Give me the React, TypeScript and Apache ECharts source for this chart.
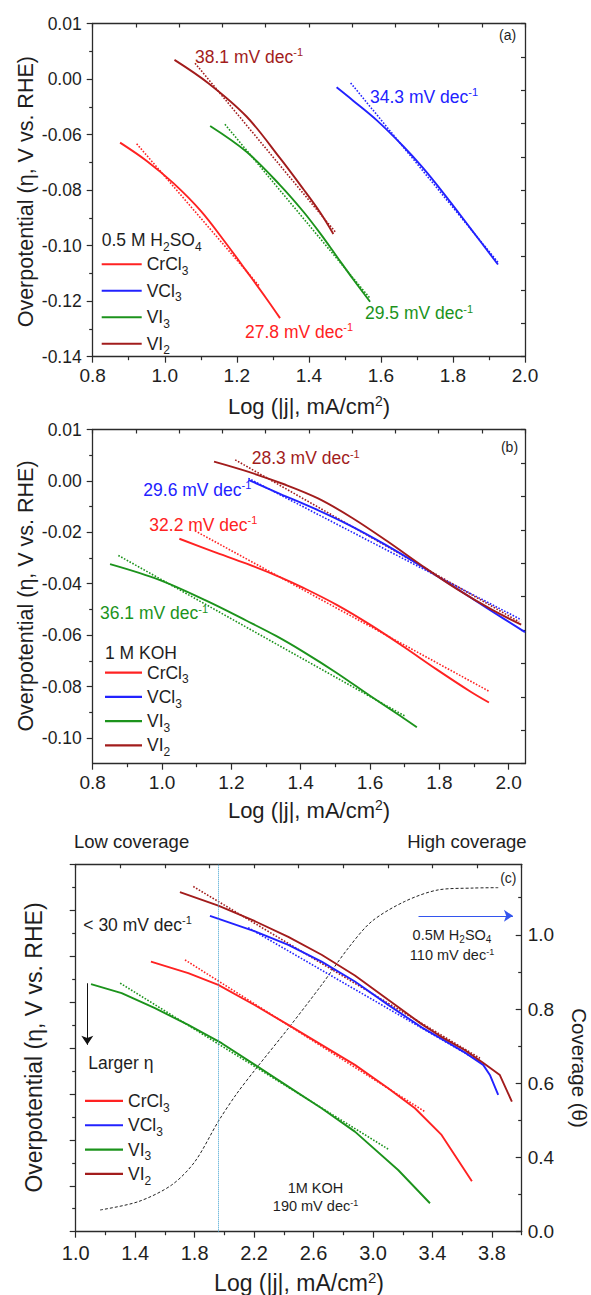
import React, { useEffect, useRef } from "react";
import * as echarts from "echarts";

const FONT = "'Liberation Sans', Arial, Helvetica, sans-serif";
const INK = "#1e1e1e";
const RED = "#ff2222";
const BLUE = "#2222ff";
const GREEN = "#1c931c";
const DARK = "#a21c1c";

const NAMES = ["CrCl3", "VCl3", "VI3", "VI2"];
const FRAME_TICKS = [0, 1, 2, 3, 4, 5, 6, 7, 8, 9, 10];

// ---------- Panel (a): 0.5 M H2SO4 ----------
const A_X_TICKS = [0.8, 1.0, 1.2, 1.4, 1.6, 1.8, 2.0];
const A_X_MINOR = [0.9, 1.1, 1.3, 1.5, 1.7, 1.9];
const A_Y_TICKS = [-0.14, -0.12, -0.1, -0.08, -0.06, -0.04, -0.02];
const A_Y_LABELS = ["-0.14", "-0.12", "-0.10", "-0.08", "-0.06", "0.00", "0.01"];
const A_Y_MINOR = [-0.13, -0.11, -0.09, -0.07, -0.05, -0.03];

const A_CRCL3 = [[0.876, -0.0629], [0.95, -0.0695], [1.024, -0.0775], [1.1, -0.0875], [1.172, -0.0995], [1.227, -0.1092], [1.283, -0.1192], [1.32, -0.1261]];
const A_CRCL3_FIT = [[0.922, -0.0633], [1.264, -0.1148]];
const A_VCL3 = [[1.477, -0.043], [1.523, -0.0478], [1.588, -0.0548], [1.662, -0.0642], [1.718, -0.0722], [1.773, -0.081], [1.847, -0.0935], [1.925, -0.1068]];
const A_VCL3_FIT = [[1.516, -0.0414], [1.925, -0.106]];
const A_VI3 = [[1.126, -0.0569], [1.227, -0.0662], [1.32, -0.0782], [1.385, -0.0878], [1.431, -0.0955], [1.477, -0.1038], [1.523, -0.1121], [1.57, -0.1202]];
const A_VI3_FIT = [[1.167, -0.0563], [1.57, -0.119]];
const A_VI2 = [[1.027, -0.0331], [1.121, -0.0415], [1.227, -0.0535], [1.32, -0.0685], [1.385, -0.0797], [1.431, -0.088], [1.468, -0.0958]];
const A_VI2_FIT = [[1.084, -0.0343], [1.473, -0.095]];
const A_SLOPES = ["27.8", "34.3", "29.5", "38.1"];

// ---------- Panel (b): 1 M KOH ----------
const B_X_TICKS = [0.8, 1.0, 1.2, 1.4, 1.6, 1.8, 2.0];
const B_X_MINOR = [0.9, 1.1, 1.3, 1.5, 1.7, 1.9];
const B_Y_TICKS = [-0.1, -0.08, -0.06, -0.04, -0.02, 0.0, 0.02];
const B_Y_LABELS = ["-0.10", "-0.08", "-0.06", "-0.04", "-0.02", "0.00", "0.01"];
const B_Y_MINOR = [-0.09, -0.07, -0.05, -0.03, -0.01, 0.01];

const B_CRCL3 = [[1.05, -0.0225], [1.148, -0.0275], [1.244, -0.0322], [1.34, -0.0374], [1.408, -0.0416], [1.504, -0.0482], [1.6, -0.0559], [1.696, -0.0644], [1.792, -0.0733], [1.888, -0.0818], [1.943, -0.0862]];
const B_CRCL3_FIT = [[1.095, -0.0194], [1.943, -0.0818]];
const B_VCL3 = [[1.249, 0.0004], [1.34, -0.005], [1.44, -0.0108], [1.54, -0.0172], [1.64, -0.0245], [1.74, -0.0325], [1.84, -0.041], [1.94, -0.0497], [2.047, -0.0588]];
const B_VCL3_FIT = [[1.249, 0.001], [2.036, -0.054]];
const B_VI3 = [[0.85, -0.0324], [0.994, -0.0386], [1.129, -0.0467], [1.244, -0.0544], [1.329, -0.0603], [1.408, -0.0665], [1.504, -0.0747], [1.6, -0.0836], [1.696, -0.0922], [1.735, -0.0958]];
const B_VI3_FIT = [[0.874, -0.029], [1.701, -0.0915]];
const B_VI2 = [[1.15, 0.0075], [1.25, 0.0035], [1.35, -0.0012], [1.45, -0.0068], [1.55, -0.0145], [1.65, -0.0235], [1.75, -0.033], [1.85, -0.042], [1.95, -0.05], [2.036, -0.0559]];
const B_VI2_FIT = [[1.211, 0.0082], [2.03, -0.0548]];
const B_SLOPES = ["32.2", "29.6", "36.1", "28.3"];

// ---------- Panel (c): both electrolytes + coverage ----------
const C_X_TICKS = [1.0, 1.4, 1.8, 2.2, 2.6, 3.0, 3.4, 3.8];
const C_X_MINOR = [1.2, 1.6, 2.0, 2.4, 2.8, 3.2, 3.6, 4.0];
const C_Y_TICKS = [0, 1, 2, 3, 4, 5, 6, 7, 8];
const C_Y_MINOR = [0.5, 1.5, 2.5, 3.5, 4.5, 5.5, 6.5, 7.5];
const C_COV_TICKS = [0.2, 0.4, 0.6, 0.8, 1.0];
const C_COV_LABELS = ["0.0", "0.4", "0.6", "0.8", "1.0"];
const C_COV_MINOR = [0.3, 0.5, 0.7, 0.9, 1.1];

const C_CRCL3 = [[1.506, 5.882], [1.757, 5.63], [1.959, 5.375], [2.206, 4.93], [2.43, 4.503], [2.654, 4.068], [2.878, 3.632], [3.102, 3.124], [3.282, 2.688], [3.461, 2.107], [3.665, 1.1]];
const C_CRCL3_FIT = [[1.735, 5.919], [3.349, 2.614]];
const C_VCL3 = [[1.903, 6.878], [2.206, 6.54], [2.43, 6.246], [2.654, 5.882], [2.878, 5.447], [3.102, 4.939], [3.327, 4.45], [3.45, 4.22], [3.619, 3.9], [3.741, 3.632], [3.786, 3.414], [3.842, 2.978]];
const C_VCL3_FIT = [[2.16, 6.62], [3.72, 3.7]];
const C_VI3 = [[1.103, 5.39], [1.309, 5.194], [1.533, 4.867], [1.757, 4.503], [1.982, 4.105], [2.206, 3.632], [2.43, 3.159], [2.654, 2.688], [2.878, 2.179], [3.169, 1.344], [3.383, 0.619]];
const C_VI3_FIT = [[1.299, 5.412], [3.102, 1.797]];
const C_VI2 = [[1.701, 7.394], [1.959, 7.1], [2.206, 6.76], [2.43, 6.42], [2.654, 6.03], [2.878, 5.58], [3.102, 5.05], [3.327, 4.52], [3.451, 4.26], [3.619, 3.95], [3.74, 3.68], [3.853, 3.41], [3.934, 2.83]];
const C_VI2_FIT = [[1.791, 7.516], [3.719, 3.778]];
const C_COVERAGE = [[1.164, 0.2585], [1.421, 0.281], [1.646, 0.326], [1.802, 0.389], [1.959, 0.497], [2.078, 0.569], [2.206, 0.636], [2.43, 0.748], [2.654, 0.865], [2.833, 0.964], [2.991, 1.036], [3.214, 1.09], [3.438, 1.121], [3.674, 1.126], [3.842, 1.127]];
const C_BOUNDARY_X = 1.963;
const C_ETA_ARROW = [[1.078, 5.41], [1.078, 4.07]];
const C_ACID_ARROW = [[3.306, 6.878], [3.941, 6.878]];

// ---------- helpers ----------
function rich(size: number, color: string, lh = size + 3, padRatio = 0.6) {
  const sub = Math.round(size * 0.7);
  const sup = Math.round(size * 0.65);
  const base = { fontFamily: FONT, color, fill: color };
  return {
    n: { ...base, fontSize: size, lineHeight: lh },
    m: { ...base, fontSize: size, lineHeight: lh + 6 },
    b: { ...base, fontSize: sub, lineHeight: sub, padding: [Math.round(size * padRatio), 0, 0, 0], verticalAlign: "top" },
    p: { ...base, fontSize: sup, lineHeight: sup, verticalAlign: "top" },
  };
}

const slopeText = (v: string) => `{n|${v} mV dec}{p|-1}`;

function txt(s: string, x: number, y: number, size: number, color: string, align = "left", rotation = 0, lh?: number, padRatio?: number) {
  return {
    type: "text",
    x,
    y,
    rotation,
    silent: true,
    style: {
      text: s,
      rich: rich(size, color, lh ?? size + 3, padRatio ?? 0.6),
      fill: color,
      fontSize: size,
      fontFamily: FONT,
      align,
      verticalAlign: "middle",
    },
  };
}

type AxOpt = {
  grid: number;
  pos: string;
  min: number;
  max: number;
  ticks: number[];
  len: number;
  inside?: boolean;
  line?: boolean;
  labels?: number[];
  texts?: string[];
  size?: number;
  margin?: number;
};

function axis(o: AxOpt) {
  const lab = o.labels;
  return {
    type: "value",
    gridIndex: o.grid,
    position: o.pos,
    min: o.min,
    max: o.max,
    axisLine: { show: !!o.line, onZero: false, lineStyle: { color: "#2b2b2b", width: 1.3 } },
    axisTick: { show: true, inside: !!o.inside, length: o.len, customValues: o.ticks, lineStyle: { color: "#2b2b2b", width: 1.2 } },
    axisLabel: lab
      ? {
          show: true,
          customValues: lab,
          margin: o.margin ?? 9,
          fontSize: o.size ?? 18,
          fontFamily: FONT,
          color: INK,
          formatter: (v: number) => {
            const i = lab.findIndex((l) => Math.abs(l - v) < 1e-7);
            if (o.texts && i >= 0) return o.texts[i];
            return v.toFixed(1);
          },
        }
      : { show: false },
    splitLine: { show: false },
    minorTick: { show: false },
    minorSplitLine: { show: false },
  };
}

function panelSeries(xi: number, yi: number, sets: any[], smooth: number | boolean) {
  const out: any[] = [];
  sets.forEach(([name, data, fitData, color]) => {
    out.push({
      type: "line",
      name,
      xAxisIndex: xi,
      yAxisIndex: yi,
      data,
      symbol: "none",
      showSymbol: false,
      smooth,
      lineStyle: { color, width: 1.9 },
      itemStyle: { color },
      z: 3,
      silent: true,
    });
    out.push({
      type: "line",
      name: name + " fit",
      xAxisIndex: xi,
      yAxisIndex: yi,
      data: fitData,
      symbol: "none",
      showSymbol: false,
      lineStyle: { color, width: 1.6, type: "dotted" },
      itemStyle: { color },
      z: 2,
      silent: true,
    });
  });
  return out;
}

function legend(left: number, top: number, gap: number, w: number) {
  return {
    show: true,
    orient: "vertical",
    left,
    top,
    padding: 0,
    itemGap: gap,
    itemWidth: w,
    itemHeight: 2.2,
    icon: "rect",
    selectedMode: false,
    data: NAMES,
    formatter: (name: string) => {
      const m = name.match(/^(.*?)(\d+)$/);
      return m ? `{n|${m[1]}}{b|${m[2]}}` : `{n|${name}}`;
    },
    textStyle: { color: INK, fontSize: 17.5, fontFamily: FONT, rich: rich(17.5, INK) },
  };
}

export default function App() {
  const ref = useRef<HTMLDivElement>(null);

  useEffect(() => {
    if (!ref.current) return;
    const chart = echarts.init(ref.current, null, { renderer: "svg" });

    const colors = [RED, BLUE, GREEN, DARK];
    const aSets = [
      [NAMES[0], A_CRCL3, A_CRCL3_FIT, colors[0]],
      [NAMES[1], A_VCL3, A_VCL3_FIT, colors[1]],
      [NAMES[2], A_VI3, A_VI3_FIT, colors[2]],
      [NAMES[3], A_VI2, A_VI2_FIT, colors[3]],
    ];
    const bSets = [
      [NAMES[0], B_CRCL3, B_CRCL3_FIT, colors[0]],
      [NAMES[1], B_VCL3, B_VCL3_FIT, colors[1]],
      [NAMES[2], B_VI3, B_VI3_FIT, colors[2]],
      [NAMES[3], B_VI2, B_VI2_FIT, colors[3]],
    ];
    const cSets = [
      [NAMES[0], C_CRCL3, C_CRCL3_FIT, colors[0]],
      [NAMES[1], C_VCL3, C_VCL3_FIT, colors[1]],
      [NAMES[2], C_VI3, C_VI3_FIT, colors[2]],
      [NAMES[3], C_VI2, C_VI2_FIT, colors[3]],
    ];

    const cSeries = panelSeries(6, 6, cSets, false);
    // arrows in panel (c), attached to the VI3 series
    cSeries[4].markLine = {
      silent: true,
      symbol: ["none", "arrow"],
      symbolSize: 9,
      label: { show: false },
      emphasis: { disabled: true },
      data: [
        [
          { coord: C_ETA_ARROW[0], lineStyle: { color: "#111", width: 1, type: "solid" } },
          { coord: C_ETA_ARROW[1] },
        ],
        [
          { coord: C_ACID_ARROW[0], lineStyle: { color: "#3355ee", width: 1, type: "solid" } },
          { coord: C_ACID_ARROW[1] },
        ],
      ],
    };
    // low/high coverage boundary, attached to the VCl3 series
    cSeries[2].markLine = {
      silent: true,
      symbol: "none",
      label: { show: false },
      emphasis: { disabled: true },
      lineStyle: { color: "#3a9fcf", width: 1, type: "dotted" },
      data: [{ xAxis: C_BOUNDARY_X }],
    };

    const option: any = {
      animation: false,
      backgroundColor: "#ffffff",
      grid: [
        { left: 92.7, top: 23.5, width: 432.3, height: 333.2, containLabel: false, outerBoundsMode: "none" },
        { left: 92.7, top: 429.5, width: 432.3, height: 334.2, containLabel: false, outerBoundsMode: "none" },
        { left: 75.7, top: 864.3, width: 446, height: 367.4, containLabel: false, outerBoundsMode: "none" },
      ],
      xAxis: [
        axis({ grid: 0, pos: "bottom", min: 0.8, max: 2.0, ticks: A_X_TICKS, len: 6, line: true, labels: A_X_TICKS, size: 19, margin: 9 }),
        axis({ grid: 0, pos: "bottom", min: 0.8, max: 2.0, ticks: A_X_MINOR, len: 3.5 }),
        axis({ grid: 0, pos: "top", min: 0, max: 10, ticks: FRAME_TICKS, len: 4, inside: true, line: true }),
        axis({ grid: 1, pos: "bottom", min: 0.8, max: 2.047, ticks: B_X_TICKS, len: 6, line: true, labels: B_X_TICKS, size: 19, margin: 9 }),
        axis({ grid: 1, pos: "bottom", min: 0.8, max: 2.047, ticks: B_X_MINOR, len: 3.5 }),
        axis({ grid: 1, pos: "top", min: 0, max: 10, ticks: FRAME_TICKS, len: 4, inside: true, line: true }),
        axis({ grid: 2, pos: "bottom", min: 1.0, max: 4.0, ticks: C_X_TICKS, len: 6, line: true, labels: C_X_TICKS, size: 20, margin: 11 }),
        axis({ grid: 2, pos: "bottom", min: 1.0, max: 4.0, ticks: C_X_MINOR, len: 3.5 }),
        axis({ grid: 2, pos: "top", min: 0, max: 10, ticks: FRAME_TICKS, len: 4, inside: true, line: true }),
      ],
      yAxis: [
        axis({ grid: 0, pos: "left", min: -0.14, max: -0.02, ticks: A_Y_TICKS, len: 6, line: true, labels: A_Y_TICKS, texts: A_Y_LABELS, size: 17.5, margin: 11 }),
        axis({ grid: 0, pos: "left", min: -0.14, max: -0.02, ticks: A_Y_MINOR, len: 3.5 }),
        axis({ grid: 0, pos: "right", min: 0, max: 10, ticks: FRAME_TICKS, len: 4, inside: true, line: true }),
        axis({ grid: 1, pos: "left", min: -0.11, max: 0.02, ticks: B_Y_TICKS, len: 6, line: true, labels: B_Y_TICKS, texts: B_Y_LABELS, size: 17.5, margin: 11 }),
        axis({ grid: 1, pos: "left", min: -0.11, max: 0.02, ticks: B_Y_MINOR, len: 3.5 }),
        axis({ grid: 1, pos: "right", min: 0, max: 10, ticks: FRAME_TICKS, len: 4, inside: true, line: true }),
        axis({ grid: 2, pos: "left", min: 0, max: 8, ticks: C_Y_TICKS, len: 6, line: true }),
        axis({ grid: 2, pos: "left", min: 0, max: 8, ticks: C_Y_MINOR, len: 3.5 }),
        axis({ grid: 2, pos: "right", min: 0.2, max: 1.19, ticks: C_COV_TICKS, len: 6, inside: true, line: true, labels: C_COV_TICKS, texts: C_COV_LABELS, size: 19, margin: 6 }),
        axis({ grid: 2, pos: "right", min: 0.2, max: 1.19, ticks: C_COV_MINOR, len: 3.5, inside: true }),
      ],
      legend: [legend(101.7, 254, 3.5, 40), legend(105, 662.3, 1.3, 37), legend(85, 1090.7, 1.3, 38)],
      series: [
        ...panelSeries(0, 0, aSets, 0.35),
        ...panelSeries(3, 3, bSets, 0.35),
        ...cSeries,
        {
          type: "line",
          name: "Coverage",
          xAxisIndex: 6,
          yAxisIndex: 8,
          data: C_COVERAGE,
          symbol: "none",
          smooth: 0.3,
          lineStyle: { color: "#222", width: 1, type: [3, 2] },
          itemStyle: { color: "#222" },
          z: 1,
          silent: true,
        },
      ],
      graphic: [
        // panel (a)
        txt(slopeText(A_SLOPES[3]), 195, 56.7, 17.5, DARK),
        txt(slopeText(A_SLOPES[1]), 370, 96.7, 17.5, BLUE),
        txt(slopeText(A_SLOPES[0]), 245, 331.7, 17.5, RED),
        txt(slopeText(A_SLOPES[2]), 365, 313.3, 17.5, GREEN),
        txt("(a)", 507.6, 35, 14, INK, "center"),
        txt("{n|0.5 M H}{b|2}{n|SO}{b|4}", 101.7, 240, 17.5, INK),
        txt("{n|Log (|j|, mA/cm}{p|2}{n|)}", 309, 406.7, 22, INK, "center"),
        txt("Overpotential (η, V vs. RHE)", 25.5, 191.7, 21.5, INK, "center", Math.PI / 2),
        // panel (b)
        txt(slopeText(B_SLOPES[3]), 251.7, 458.3, 17.5, DARK),
        txt(slopeText(B_SLOPES[1]), 143.3, 490, 17.5, BLUE),
        txt(slopeText(B_SLOPES[0]), 149.3, 525, 17.5, RED),
        txt(slopeText(B_SLOPES[2]), 100, 613.3, 17.5, GREEN),
        txt("(b)", 509.5, 446.7, 14, INK, "center"),
        txt("1 M KOH", 105, 653.3, 17.5, INK),
        txt("{n|Log (|j|, mA/cm}{p|2}{n|)}", 309, 810, 22, INK, "center"),
        txt("Overpotential (η, V vs. RHE)", 25.5, 596, 21.5, INK, "center", Math.PI / 2),
        // panel (c)
        txt("Low coverage", 74, 841.7, 18.5, INK),
        txt("High coverage", 526.5, 841.7, 18.5, INK, "right"),
        txt("(c)", 508.3, 878.3, 14, INK, "center"),
        txt("{n|< 30 mV dec}{p|-1}", 83.3, 925, 17.5, INK),
        txt("Larger η", 88.3, 1063.3, 17.5, INK),
        txt("{n|0.5M H}{b|2}{n|SO}{b|4}", 452, 935, 14.5, INK, "center", 15, 15, 0.45),
        txt("{n|110 mV dec}{p|-1}", 452, 954.5, 14.5, INK, "center", 0, 15, 0.45),
        txt("{n|1M KOH}", 315.5, 1188.3, 14.5, INK, "center", 0, 15, 0.45),
        txt("{n|190 mV dec}{p|-1}", 315.5, 1206, 14.5, INK, "center", 0, 15, 0.45),
        txt("{n|Log (|j|, mA/cm}{p|2}{n|)}", 299, 1282.5, 23, INK, "center"),
        txt("Overpotential (η, V vs. RHE)", 34, 1047.5, 23, INK, "center", Math.PI / 2),
        txt("Coverage (θ)", 579.5, 1068, 20.5, INK, "center", -Math.PI / 2),
      ].map((g: any, i: number, arr: any[]) => {
        // the acid label line is not rotated
        if (g.rotation === 15) g.rotation = 0;
        return g;
      }),
    };

    chart.setOption(option);
    return () => chart.dispose();
  }, []);

  return (
    <div
      ref={ref}
      style={{ position: "absolute", left: 0, top: 0, width: 591, height: 1295, background: "#fff" }}
    />
  );
}
